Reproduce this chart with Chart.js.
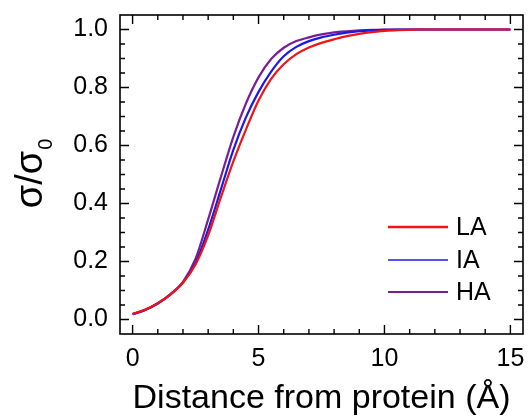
<!DOCTYPE html>
<html>
<head>
<meta charset="utf-8">
<script src="https://cdn.jsdelivr.net/npm/chart.js@4.4.1/dist/chart.umd.min.js"></script>
<style>
  html, body { margin: 0; padding: 0; background: #fff; }
  #wrap { width: 528px; height: 419px; }
</style>
</head>
<body>
<div id="wrap"><canvas id="canvas-1" width="528" height="419"></canvas></div>
<script>
const xValues = [0, 0.5, 1, 1.5, 2, 2.5, 3, 3.5, 4, 4.5, 5, 5.5, 6, 6.5, 7, 7.5, 8, 8.5, 9, 9.5, 10, 10.5, 11, 11.5, 12, 12.5, 13, 13.5, 14, 14.5, 15];
const laValues = [0.02, 0.034, 0.056, 0.086, 0.127, 0.19, 0.29, 0.42, 0.545, 0.655, 0.755, 0.83, 0.88, 0.915, 0.938, 0.954, 0.966, 0.977, 0.985, 0.991, 0.995, 0.998, 0.999, 1, 1, 1, 1, 1, 1, 1, 1];
const iaValues = [0.018, 0.033, 0.055, 0.086, 0.127, 0.195, 0.31, 0.447, 0.585, 0.697, 0.785, 0.855, 0.908, 0.94, 0.96, 0.973, 0.982, 0.989, 0.994, 0.997, 0.999, 1, 1, 1, 1, 1, 1, 1, 1, 1, 1];
const haValues = [0.018, 0.033, 0.056, 0.088, 0.13, 0.21, 0.345, 0.49, 0.63, 0.745, 0.835, 0.898, 0.937, 0.96, 0.973, 0.983, 0.99, 0.994, 0.997, 0.999, 1, 1, 1, 1, 1, 1, 1, 1, 1, 1, 1];

const seriesNames = ["LA", "IA", "HA"];
const xTicks = [0, 5, 10, 15];
const yTicks = [0, 0.2, 0.4, 0.6, 0.8, 1.0];

const FONT = "'Liberation Sans', Arial, sans-serif";

function toPoints(ys) {
  return xValues.map((x, i) => ({ x: x, y: ys[i] }));
}

// frame + inward ticks on all four sides, y title with subscript
const framePlugin = {
  id: "frame",
  afterDraw(chart) {
    const ctx = chart.ctx;
    const a = chart.chartArea;
    const xs = chart.scales.x;
    const ys = chart.scales.y;
    ctx.save();
    ctx.strokeStyle = "#000";
    ctx.lineWidth = 1.6;
    ctx.strokeRect(a.left, a.top, a.right - a.left, a.bottom - a.top);

    ctx.lineWidth = 1.4;
    ctx.beginPath();
    for (let v = 0; v <= 15; v += 1) {
      const px = xs.getPixelForValue(v);
      const len = v % 5 === 0 ? 9 : 5;
      ctx.moveTo(px, a.bottom); ctx.lineTo(px, a.bottom - len);
      ctx.moveTo(px, a.top); ctx.lineTo(px, a.top + len);
    }
    for (let i = 0; i <= 20; i++) {
      const v = i * 0.05;
      const py = ys.getPixelForValue(v);
      const len = i % 4 === 0 ? 9 : 5;
      ctx.moveTo(a.left, py); ctx.lineTo(a.left + len, py);
      ctx.moveTo(a.right, py); ctx.lineTo(a.right - len, py);
    }
    ctx.stroke();

    // y axis title: σ/σ0
    ctx.fillStyle = "#000";
    ctx.translate(42, 174);
    ctx.rotate(-Math.PI / 2);
    ctx.textBaseline = "alphabetic";
    ctx.font = "38px " + FONT;
    const main = "σ/σ";
    const w1 = ctx.measureText(main).width;
    ctx.font = "20px " + FONT;
    const w2 = ctx.measureText("0").width;
    const start = -(w1 + w2) / 2;
    ctx.font = "38px " + FONT;
    ctx.textAlign = "left";
    ctx.fillText(main, start, 0);
    ctx.font = "20px " + FONT;
    ctx.fillText("0", start + w1 + 1, 10);
    ctx.restore();
  }
};

// legend drawn inside the plot, bottom right
const legendPlugin = {
  id: "insideLegend",
  afterDatasetsDraw(chart) {
    const ctx = chart.ctx;
    const a = chart.chartArea;
    const rows = [-107, -74, -42];
    const widths = [2.6, 1.6, 2.2];
    ctx.save();
    ctx.font = "25px " + FONT;
    ctx.textBaseline = "middle";
    ctx.fillStyle = "#000";
    chart.data.datasets.forEach((ds, i) => {
      const y = a.bottom + rows[i];
      ctx.strokeStyle = ds.borderColor;
      ctx.lineWidth = widths[i];
      ctx.beginPath();
      ctx.moveTo(a.right - 135, y);
      ctx.lineTo(a.right - 75, y);
      ctx.stroke();
      ctx.fillText(ds.label, a.right - 67, y + 1);
    });
    ctx.restore();
  }
};

const ctx1 = document.querySelector("#canvas-1").getContext("2d");

const lineChart = new Chart(ctx1, {
  type: "scatter",
  data: {
    datasets: [
      {
        label: seriesNames[0],
        data: toPoints(laValues),
        borderColor: "#f01414",
        borderWidth: 2.2,
      },
      {
        label: seriesNames[1],
        data: toPoints(iaValues),
        borderColor: "#1a1ae0",
        borderWidth: 2.2,
      },
      {
        label: seriesNames[2],
        data: toPoints(haValues),
        borderColor: "#7a1e96",
        borderWidth: 2.2,
      },
    ],
  },
  options: {
    responsive: false,
    animation: false,
    showLine: true,
    cubicInterpolationMode: "monotone",
    pointRadius: 0,
    layout: { padding: { top: 15, right: 5, left: 0, bottom: 0 } },
    plugins: {
      legend: { display: false },
      tooltip: { enabled: false },
    },
    scales: {
      x: {
        type: "linear",
        min: -0.5,
        max: 15.5,
        grid: { display: false, drawTicks: false },
        border: { display: false },
        afterBuildTicks: (s) => { s.ticks = xTicks.map((v) => ({ value: v })); },
        afterFit: (s) => {
          s.height = 85;
          s.paddingLeft = 0;
          s.paddingRight = 0;
        },
        ticks: {
          color: "#000",
          padding: 10,
          maxRotation: 0,
          font: { family: FONT, size: 25 },
          callback: (v) => String(v),
        },
        title: {
          display: true,
          text: "Distance from protein (Å)",
          color: "#000",
          font: { family: FONT, size: 34 },
          padding: { top: 0, bottom: 0 },
        },
      },
      y: {
        min: -0.05,
        max: 1.05,
        grid: { display: false, drawTicks: false },
        border: { display: false },
        afterBuildTicks: (s) => { s.ticks = yTicks.map((v) => ({ value: v })); },
        afterFit: (s) => {
          s.width = 120;
          s.paddingTop = 0;
          s.paddingBottom = 0;
        },
        ticks: {
          color: "#000",
          padding: 12,
          font: { family: FONT, size: 25 },
          callback: (v) => v.toFixed(1),
        },
      },
    },
  },
  plugins: [framePlugin, legendPlugin],
});
</script>
</body>
</html>
